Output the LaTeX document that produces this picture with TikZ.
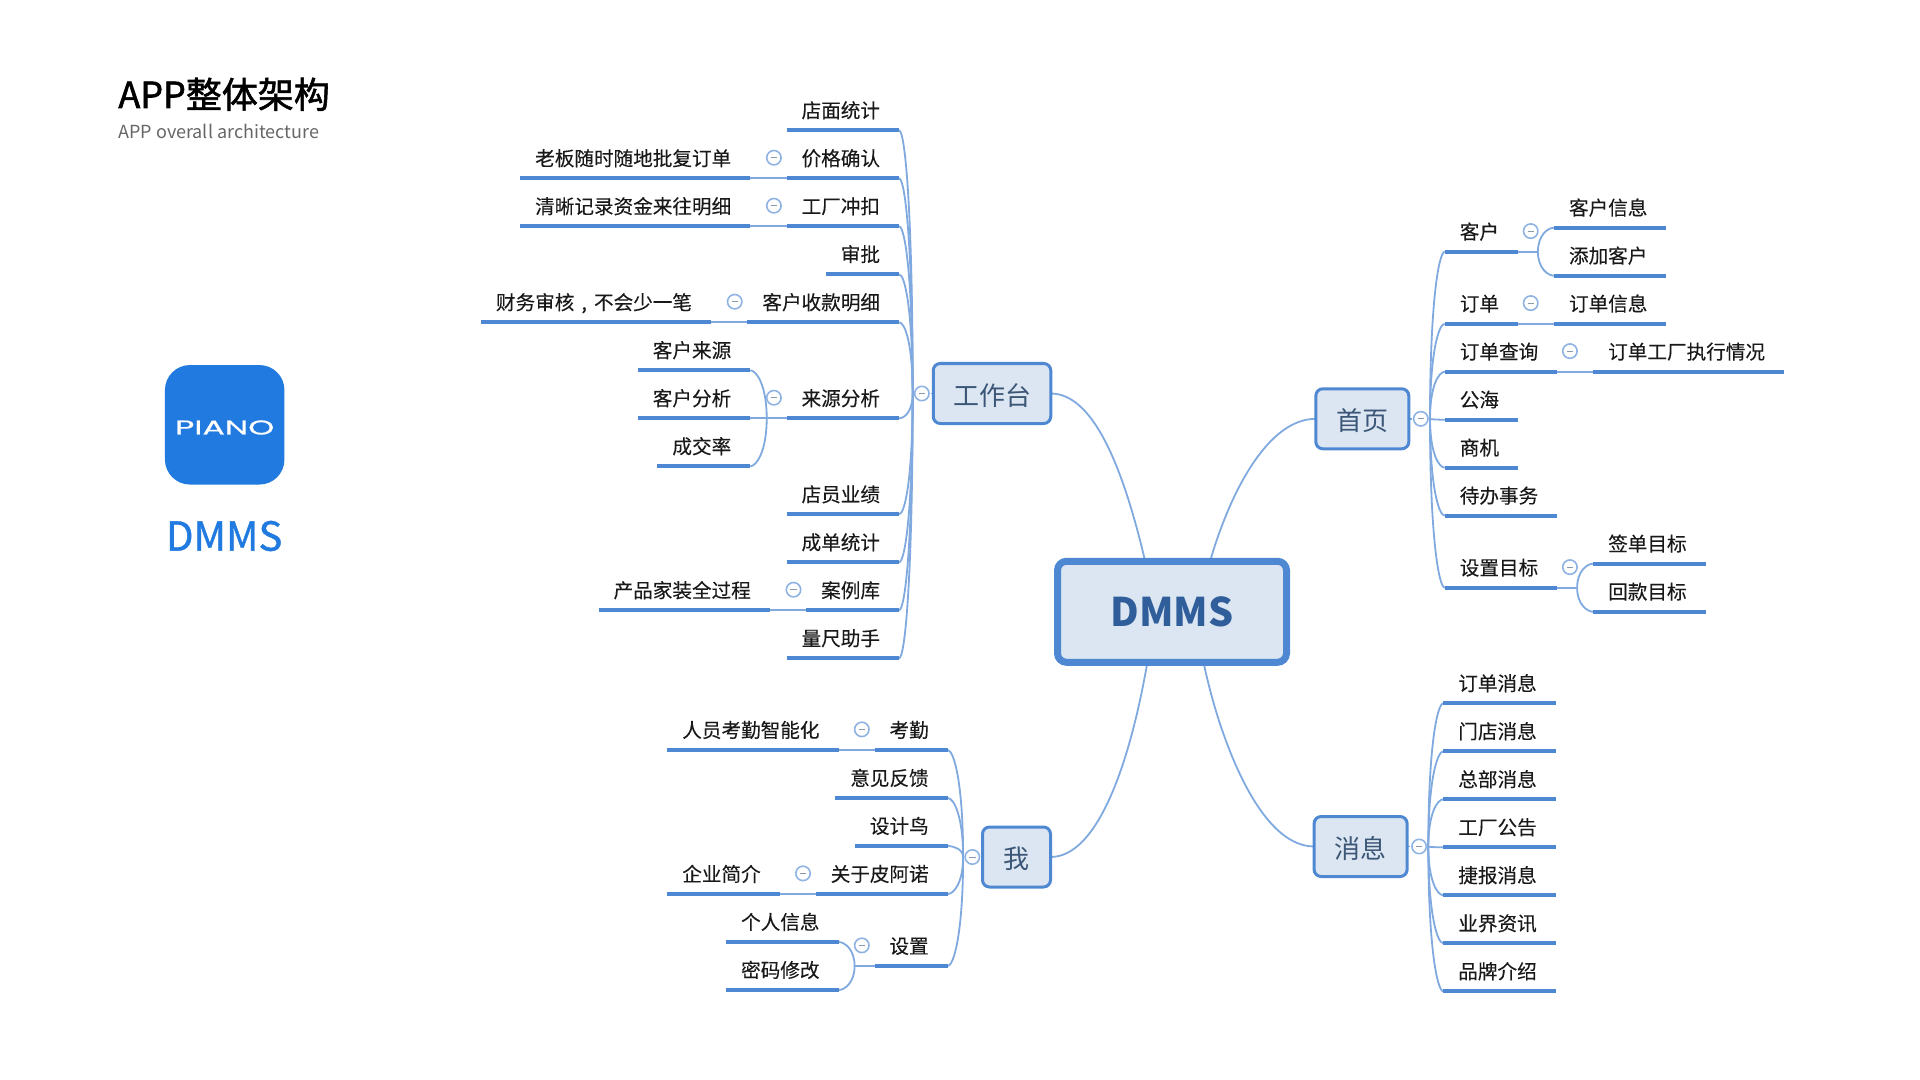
\documentclass[tikz,border=0pt]{standalone}
\usepackage{fontspec}
\setmainfont{Noto Sans CJK SC}
\newfontfamily\titlefont[FakeBold=1.6]{Noto Sans CJK SC}
\newfontfamily\logofont[FakeBold=1]{Noto Sans CJK SC}
\newfontfamily\topicfont[FakeBold=0.2]{Noto Sans CJK SC}
\newfontfamily\pianofont[FakeBold=0.5]{Poppins}
\usetikzlibrary{backgrounds,calc,positioning,shapes}
\definecolor{barblue}{HTML}{4F88D2}
\definecolor{linkblue}{HTML}{7FA9DF}
\definecolor{foldblue}{HTML}{8FB3E3}
\definecolor{boxfill}{HTML}{DCE6F2}
\definecolor{boxtext}{HTML}{3B5676}
\definecolor{roottext}{HTML}{2F5E9B}
\definecolor{iconblue}{HTML}{207ADF}
\tikzstyle{topic}=[
	font=\fontsize{9.8pt}{11pt}\topicfont,
	text=black!90,
	inner xsep=8.5pt,
	inner ysep=5.2pt,
	text height=9.1pt,
	text depth=1.1pt,
	outer sep=0pt,
	execute at begin node=\kern-1pt,
	execute at end node=\kern1pt,
	append after command={(\tikzlastnode.south west) edge[draw=barblue,line width=2pt] (\tikzlastnode.south east)}]
\tikzstyle{leftrow}=[topic,anchor=south east]
\tikzstyle{rightrow}=[topic,anchor=south west]
\tikzstyle{fold}=[
	circle,
	draw=foldblue,
	line width=.8pt,
	fill=white,
	minimum size=7.2pt,
	inner sep=0pt,
	outer sep=0pt,
	path picture={\draw[boxtext!60,line width=.5pt] ([xshift=-1.6pt]path picture bounding box.center) -- ([xshift=1.6pt]path picture bounding box.center);}]
\tikzstyle{hub}=[fold,outer sep=1pt]
\tikzstyle{mainbox}=[
	rectangle,
	rounded corners=3.5pt,
	draw=barblue,
	line width=1.5pt,
	fill=boxfill,
	text=boxtext,
	text height=11.6pt,
	text depth=0pt,
	minimum height=30pt,
	outer sep=0pt,
	font=\fontsize{13pt}{15pt}\selectfont]
\tikzstyle{root}=[
	rectangle,
	rounded corners=4.5pt,
	draw=barblue,
	line width=3.5pt,
	fill=boxfill,
	text=roottext,
	minimum width=114.5pt,
	minimum height=50.5pt,
	outer sep=0pt,
	font=\fontsize{19.7pt}{22pt}\selectfont\bfseries]
\tikzstyle{linkline}=[draw=linkblue,line width=.9pt]
\tikzstyle{branchl}=[to path={.. controls +(6,0) and ($(\tikztotarget)!.7!(\tikztotarget |- \tikztostart)$) .. (\tikztotarget)}]
\tikzstyle{branchr}=[to path={.. controls +(-6,0) and ($(\tikztotarget)!.7!(\tikztotarget |- \tikztostart)$) .. (\tikztotarget)}]
\begin{document}
\begin{tikzpicture}[x=.5pt,y=-.5pt]
	\useasboundingbox (0,0) rectangle (1920,1080);
	% heading and logo
	\node[anchor=base west,inner sep=0pt,font=\fontsize{18pt}{20pt}\titlefont] (title) at (118,108) {APP整体架构};
	\node[anchor=base west,inner sep=0pt,text=black!60,font=\fontsize{9pt}{11pt}\selectfont] (subtitle) at (118,138.5) {APP overall architecture};
	\node[rectangle,rounded corners=12.5pt,fill=iconblue,minimum width=59.75pt,minimum height=59.75pt] (icon) at (224.7,424.8) {};
	\node[text=white,font=\fontsize{10pt}{12pt}\pianofont,xscale=1.66,transform shape,inner sep=0pt] (piano) at (224.7,427.5) {PIANO};
	\node[text=iconblue,font=\fontsize{20pt}{24pt}\logofont,inner sep=0pt] (appname) at (224.2,536) {DMMS};
	% centre and main boxes
	\node[root] (dmms) at (1172,611.8) {DMMS};
	\node[mainbox,minimum width=58.75pt] (work) at (992,393.5) {工作台};
	\node[mainbox,minimum width=46.5pt] (home) at (1362.3,418.8) {首页};
	\node[mainbox,minimum width=46.5pt] (msg) at (1360.6,846.5) {消息};
	\node[mainbox,minimum width=34pt] (me) at (1016.5,857) {我};
	\node[hub] (workhub) [left=1.1pt of work] {};
	\node[hub] (homehub) [right=1.4pt of home] {};
	\node[hub] (msghub) [right=1.4pt of msg] {};
	\node[hub] (mehub) [left=.5pt of me] {};
	% workbench
	\node[leftrow] (wstore) at (899,130.3) {店面统计};
	\node[leftrow] (wprice) at (899,178.3) {价格确认};
	\node[leftrow] (wfactory) at (899,226.3) {工厂冲扣};
	\node[leftrow] (waudit) at (899,274.3) {审批};
	\node[leftrow] (wreceipt) at (899,322.3) {客户收款明细};
	\node[leftrow] (wsource) at (899,418.3) {来源分析};
	\node[leftrow] (wstaff) at (899,514.3) {店员业绩};
	\node[leftrow] (wdeal) at (899,562.3) {成单统计};
	\node[leftrow] (wcase) at (899,610.3) {案例库};
	\node[leftrow] (wmeasure) at (899,658.3) {量尺助手};
	\node[topic] (wpricesub) [left=18.2pt of wprice] {老板随时随地批复订单};
	\node[topic] (wfactorysub) [left=18.2pt of wfactory] {清晰记录资金来往明细};
	\node[topic] (wreceiptsub) [left=18.2pt of wreceipt] {财务审核\makebox[9.8pt]{,}不会少一笔};
	\node[topic] (wsourcea) [left=18.2pt of wsource,yshift=24pt] {客户来源};
	\node[topic] (wsourceb) [left=18.2pt of wsource] {客户分析};
	\node[topic] (wsourcec) [left=18.2pt of wsource,yshift=-24pt] {成交率};
	\node[topic] (wcasesub) [left=18.2pt of wcase] {产品家装全过程};
	\node[fold] (wpricefold) [left=2.75pt of wprice] {};
	\node[fold] (wfactoryfold) [left=2.75pt of wfactory] {};
	\node[fold] (wreceiptfold) [left=2.75pt of wreceipt] {};
	\node[fold] (wsourcefold) [left=2.75pt of wsource] {};
	\node[fold] (wcasefold) [left=2.75pt of wcase] {};
	\coordinate (wsourcejoin) at (wsourcefold.west |- wsource.south west);
	% home
	\node[rightrow] (hcustomer) at (1444.8,251.7) {客户};
	\node[rightrow] (horder) at (1444.8,323.7) {订单};
	\node[rightrow] (hquery) at (1444.8,371.7) {订单查询};
	\node[rightrow] (hsea) at (1444.8,419.7) {公海};
	\node[rightrow] (hchance) at (1444.8,467.7) {商机};
	\node[rightrow] (htodo) at (1444.8,515.7) {待办事务};
	\node[rightrow] (htarget) at (1444.8,587.7) {设置目标};
	\node[topic] (hcustomera) [right=18pt of hcustomer,yshift=12pt] {客户信息};
	\node[topic] (hcustomerb) [right=18pt of hcustomer,yshift=-12pt] {添加客户};
	\node[topic] (hordersub) [right=18pt of horder] {订单信息};
	\node[topic] (hquerysub) [right=18pt of hquery] {订单工厂执行情况};
	\node[topic] (htargeta) [right=18pt of htarget,yshift=12pt] {签单目标};
	\node[topic] (htargetb) [right=18pt of htarget,yshift=-12pt] {回款目标};
	\node[fold] (hcustomerfold) [right=2.75pt of hcustomer] {};
	\node[fold] (horderfold) [right=2.75pt of horder] {};
	\node[fold] (hqueryfold) [right=2.75pt of hquery] {};
	\node[fold] (htargetfold) [right=2.75pt of htarget] {};
	\coordinate (hcustomerjoin) at (hcustomerfold.east |- hcustomer.south east);
	\coordinate (htargetjoin) at (htargetfold.east |- htarget.south east);
	% messages
	\node[rightrow] (morder) at (1443.3,703.3) {订单消息};
	\node[rightrow] (mstore) at (1443.3,751.3) {门店消息};
	\node[rightrow] (mhq) at (1443.3,799.3) {总部消息};
	\node[rightrow] (mnotice) at (1443.3,847.3) {工厂公告};
	\node[rightrow] (mnews) at (1443.3,895.3) {捷报消息};
	\node[rightrow] (mtrade) at (1443.3,943.3) {业界资讯};
	\node[rightrow] (mbrand) at (1443.3,991.3) {品牌介绍};
	% me
	\node[leftrow] (eattend) at (947.7,750) {考勤};
	\node[leftrow] (efeedback) at (947.7,798) {意见反馈};
	\node[leftrow] (ebird) at (947.7,846) {设计鸟};
	\node[leftrow] (eabout) at (947.7,894) {关于皮阿诺};
	\node[leftrow] (esetting) at (947.7,966) {设置};
	\node[topic] (eattendsub) [left=18pt of eattend] {人员考勤智能化};
	\node[topic] (eaboutsub) [left=18pt of eabout] {企业简介};
	\node[topic] (esettinga) [left=18pt of esetting,yshift=12pt] {个人信息};
	\node[topic] (esettingb) [left=18pt of esetting,yshift=-12pt] {密码修改};
	\node[fold] (eattendfold) [left=2.75pt of eattend] {};
	\node[fold] (eaboutfold) [left=2.75pt of eabout] {};
	\node[fold] (esettingfold) [left=2.75pt of esetting] {};
	\coordinate (esettingjoin) at (esettingfold.west |- esetting.south west);
	\begin{scope}[on background layer]
		\draw[linkline] (work.east) .. controls +(45,0) and +(-20,-85) .. (dmms.118.8);
		\draw[linkline] (home.west) .. controls +(-48,0) and +(20,-69) .. (dmms.53.6);
		\draw[linkline] (msg.west) .. controls +(-58,0) and +(13,64) .. (dmms.-58.8);
		\draw[linkline] (me.east) .. controls +(48,0) and +(-17,98) .. (dmms.-116.6);
		\draw[linkline] (work.west) -- (workhub.east);
		\draw[linkline] (home.east) -- (homehub.west);
		\draw[linkline] (msg.east) -- (msghub.west);
		\draw[linkline] (me.west) -- (mehub.east);
		% workbench links
		\draw[linkline] (wstore.south east) to[branchl] (workhub.west);
		\draw[linkline] (wprice.south east) to[branchl] (workhub.west);
		\draw[linkline] (wfactory.south east) to[branchl] (workhub.west);
		\draw[linkline] (waudit.south east) to[branchl] (workhub.west);
		\draw[linkline] (wreceipt.south east) to[branchl] (workhub.west);
		\draw[linkline] (wsource.south east) to[branchl] (workhub.west);
		\draw[linkline] (wstaff.south east) to[branchl] (workhub.west);
		\draw[linkline] (wdeal.south east) to[branchl] (workhub.west);
		\draw[linkline] (wcase.south east) to[branchl] (workhub.west);
		\draw[linkline] (wmeasure.south east) to[branchl] (workhub.west);
		\draw[linkline] (wpricesub.south east) -- (wprice.south west);
		\draw[linkline] (wfactorysub.south east) -- (wfactory.south west);
		\draw[linkline] (wreceiptsub.south east) -- (wreceipt.south west);
		\draw[linkline] (wcasesub.south east) -- (wcase.south west);
		\draw[linkline] (wsourceb.south east) -- (wsource.south west);
		\draw[linkline] (wsourcea.south east) to[branchl] (wsourcejoin);
		\draw[linkline] (wsourcec.south east) to[branchl] (wsourcejoin);
		% home links
		\draw[linkline] (hcustomer.south west) to[branchr] (homehub.east);
		\draw[linkline] (horder.south west) to[branchr] (homehub.east);
		\draw[linkline] (hquery.south west) to[branchr] (homehub.east);
		\draw[linkline] (hsea.south west) to[branchr] (homehub.east);
		\draw[linkline] (hchance.south west) to[branchr] (homehub.east);
		\draw[linkline] (htodo.south west) to[branchr] (homehub.east);
		\draw[linkline] (htarget.south west) to[branchr] (homehub.east);
		\draw[linkline] (hcustomer.south east) -- (hcustomerjoin);
		\draw[linkline] (hcustomera.south west) to[branchr] (hcustomerjoin);
		\draw[linkline] (hcustomerb.south west) to[branchr] (hcustomerjoin);
		\draw[linkline] (horder.south east) -- (hordersub.south west);
		\draw[linkline] (hquery.south east) -- (hquerysub.south west);
		\draw[linkline] (htarget.south east) -- (htargetjoin);
		\draw[linkline] (htargeta.south west) to[branchr] (htargetjoin);
		\draw[linkline] (htargetb.south west) to[branchr] (htargetjoin);
		% message links
		\draw[linkline] (morder.south west) to[branchr] (msghub.east);
		\draw[linkline] (mstore.south west) to[branchr] (msghub.east);
		\draw[linkline] (mhq.south west) to[branchr] (msghub.east);
		\draw[linkline] (mnotice.south west) to[branchr] (msghub.east);
		\draw[linkline] (mnews.south west) to[branchr] (msghub.east);
		\draw[linkline] (mtrade.south west) to[branchr] (msghub.east);
		\draw[linkline] (mbrand.south west) to[branchr] (msghub.east);
		% me links
		\draw[linkline] (eattend.south east) to[branchl] (mehub.west);
		\draw[linkline] (efeedback.south east) to[branchl] (mehub.west);
		\draw[linkline] (ebird.south east) to[branchl] (mehub.west);
		\draw[linkline] (eabout.south east) to[branchl] (mehub.west);
		\draw[linkline] (esetting.south east) to[branchl] (mehub.west);
		\draw[linkline] (eattendsub.south east) -- (eattend.south west);
		\draw[linkline] (eaboutsub.south east) -- (eabout.south west);
		\draw[linkline] (esetting.south west) -- (esettingjoin);
		\draw[linkline] (esettinga.south east) to[branchl] (esettingjoin);
		\draw[linkline] (esettingb.south east) to[branchl] (esettingjoin);
	\end{scope}
\end{tikzpicture}
\end{document}
